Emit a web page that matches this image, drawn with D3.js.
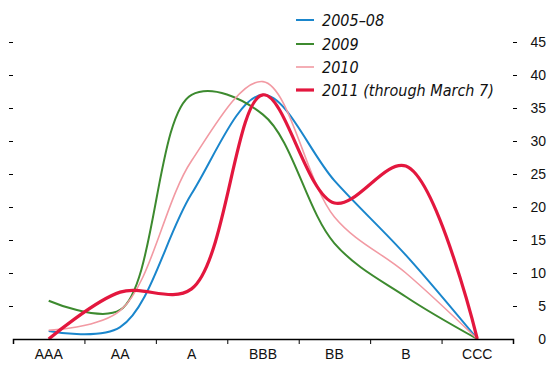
<!DOCTYPE html>
<html>
<head>
<meta charset="utf-8">
<script src="https://cdn.jsdelivr.net/npm/d3@7"></script>
<style>
  body { margin: 0; background: #fff; }
  svg { display: block; font-family: "Liberation Sans Narrow", "DejaVu Sans Condensed", "Roboto", sans-serif; font-stretch: condensed; }
  .axis path, .axis line { stroke: #000; }
  .axis text { fill: #111; font-size: 14px; }
  .legend text { font-size: 16px; font-style: italic; fill: #111; }
</style>
</head>
<body>
<svg></svg>
<script>
var width = 547,
    height = 367,
    plot = { left: 13, right: 513, top: 42, bottom: 339 }

var ratings = ["AAA", "AA", "A", "BBB", "BB", "B", "CCC"]
var yTicks = [0, 5, 10, 15, 20, 25, 30, 35, 40, 45]

var s2005 = [1.2, 1.8, 22, 37, 24, 12.7, 0]
var s2009 = [5.8, 4.4, 37, 34, 14.5, 6.4, 0]
var s2010 = [1.3, 4.3, 27, 39, 18.5, 10, 0]
var s2011 = [0, 7.1, 7.6, 37, 20.6, 26.2, 0]

var seriesNames = ["2005\u201308", "2009", "2010", "2011 (through March 7)"]
var seriesData = [s2005, s2009, s2010, s2011]
var colors = ["#1a86cc", "#3d8a2f", "#f29aa3", "#e3173e"]
var widths = [2, 2, 1.6, 3.2]

var svg = d3.select("svg").attr("width", width).attr("height", height)

var x = d3.scalePoint().domain(ratings).range([plot.left, plot.right]).padding(0.5)
var xBand = d3.scaleBand().domain(ratings).range([plot.left, plot.right])
var xEdge = d3.scaleLinear().domain([0, ratings.length]).range([plot.left, plot.right])
var y = d3.scaleLinear().domain([0, 45]).range([plot.bottom, plot.top])

// left dashes, no labels
var left = svg.append("g").attr("class", "axis")
    .attr("transform", "translate(" + plot.left + ",0)")
    .call(d3.axisLeft(y).tickValues(yTicks.slice(1)).tickSize(4).tickFormat(""))
left.select(".domain").remove()

// right dashes + labels
var right = svg.append("g").attr("class", "axis")
    .attr("transform", "translate(" + plot.right + ",0)")
    .call(d3.axisRight(y).tickValues(yTicks).tickSize(4).tickPadding(29))
right.select(".domain").remove()
right.selectAll(".tick").filter(function(d) { return d == 0 }).select("line").remove()
right.selectAll("text").attr("text-anchor", "end").attr("dy", "0.35em")

// lines
var line = d3.line()
    .x(function(d, i) { return x(ratings[i]) })
    .y(function(d) { return y(d) })
    .curve(d3.curveCatmullRom.alpha(0.5))

seriesData.forEach(function(s, i) {
    svg.append("path")
        .datum(s)
        .attr("d", line)
        .attr("fill", "none")
        .attr("stroke", colors[i])
        .attr("stroke-width", widths[i])
        .attr("stroke-linejoin", "round")
})

// bottom axis: boundary ticks and centred labels
var edges = svg.append("g").attr("class", "axis")
    .attr("transform", "translate(0," + plot.bottom + ")")
    .call(d3.axisBottom(xEdge).ticks(ratings.length).tickSize(5).tickFormat("").tickSizeOuter(5))
edges.select(".domain").attr("stroke-width", 1.5)

var labels = svg.append("g").attr("class", "axis")
    .attr("transform", "translate(0," + plot.bottom + ")")
    .call(d3.axisBottom(xBand).tickSize(0).tickPadding(10))
labels.select(".domain").remove()

// legend
var legend = svg.append("g").attr("class", "legend")
var legendY = [20, 44, 67, 90]
seriesNames.forEach(function(name, i) {
    legend.append("line")
        .attr("x1", 296).attr("x2", 314)
        .attr("y1", legendY[i]).attr("y2", legendY[i])
        .attr("stroke", colors[i])
        .attr("stroke-width", widths[i])
    legend.append("text")
        .attr("x", 322).attr("y", legendY[i])
        .attr("dy", "0.35em")
        .text(name)
})
</script>
</body>
</html>
